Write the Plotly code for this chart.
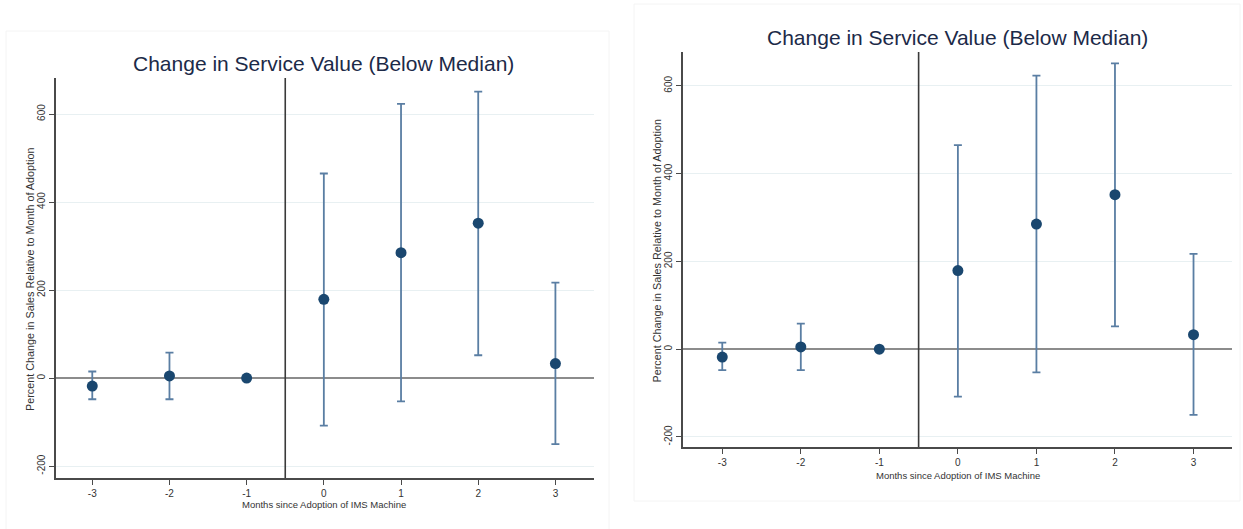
import plotly.graph_objects as go

# Event-study estimates: months relative to adoption, point estimate and 95% CI
months = [-3, -2, -1, 0, 1, 2, 3]
estimate = [-18, 5, 0, 179, 285, 352, 33]
ci_low = [-48, -48, None, -108, -53, 52, -150]
ci_high = [15, 58, None, 465, 623, 651, 217]

tick_vals_y = [-200, 0, 200, 400, 600]
tick_text_y = ["-200", "0", "200", "400", "600"]
tick_vals_x = months
tick_text_x = ["-3", "-2", "-1", "0", "1", "2", "3"]

title_text = "Change in Service Value (Below Median)"
xtitle_text = "Months since Adoption of IMS Machine"
ytitle_text = "Percent Change in Sales Relative to Month of Adoption"

W, H = 1243, 529
FONT = "Liberation Sans, Arial, sans-serif"
NAVY = "#1a476f"
BAR = "#5a7ea3"


def px_x(p):
    return p / W


def px_y(p):
    return 1 - p / H


err_plus = [None if h is None else h - e for h, e in zip(ci_high, estimate)]
err_minus = [None if l is None else e - l for l, e in zip(ci_low, estimate)]

# panel geometry in pixels: plot area left, right, top, bottom, and axis ranges
panels = [
    dict(l=56, r=594, t=78, b=478, xr=[-3.47, 3.50], yr=[-227, 682],
         frame=(6, 609, 31, 540), title_y=63, xt_y=504, yt_x=30),
    dict(l=683, r=1232, t=52, b=447, xr=[-3.50, 3.49], yr=[-223, 677],
         frame=(634, 1240, 4, 501), title_y=37, xt_y=475, yt_x=657),
]

fig = go.Figure()
shapes = []
annotations = []

for i, p in enumerate(panels, start=1):
    xa = "x" if i == 1 else f"x{i}"
    ya = "y" if i == 1 else f"y{i}"
    fig.add_trace(go.Scatter(
        x=months, y=estimate, mode="markers", xaxis=xa, yaxis=ya,
        marker=dict(color=NAVY, size=11),
        error_y=dict(type="data", symmetric=False, array=err_plus,
                     arrayminus=err_minus, color=BAR, thickness=1.8, width=4),
        showlegend=False, hoverinfo="x+y",
    ))
    axis_common = dict(showline=True, linecolor="#4a4a4a", linewidth=1.5,
                       ticks="outside", ticklen=5, tickcolor="#4a4a4a",
                       tickfont=dict(family=FONT, size=10, color="#333"))
    fig.layout[f"xaxis{'' if i == 1 else i}"] = dict(
        domain=[px_x(p["l"]), px_x(p["r"])], range=p["xr"], anchor=ya,
        tickvals=tick_vals_x, ticktext=tick_text_x, showgrid=False,
        zeroline=False, **axis_common)
    fig.layout[f"yaxis{'' if i == 1 else i}"] = dict(
        domain=[px_y(p["b"]), px_y(p["t"])], range=p["yr"], anchor=xa,
        tickvals=tick_vals_y, ticktext=tick_text_y, tickangle=-90,
        showgrid=True, gridcolor="#e8f0f2", gridwidth=1.2, zeroline=True,
        zerolinecolor="#8c8c8c", zerolinewidth=2, **axis_common)

    # adoption marker between month -1 and month 0
    shapes.append(dict(type="line", xref=xa, yref=f"{ya} domain",
                       x0=-0.5, x1=-0.5, y0=0, y1=1,
                       line=dict(color="#3a3a3a", width=1.6), layer="above"))
    fl, fr, ft, fb = p["frame"]
    shapes.append(dict(type="rect", xref="paper", yref="paper",
                       x0=px_x(fl), x1=px_x(fr), y0=px_y(fb), y1=px_y(ft),
                       line=dict(color="#f4f4f4", width=1), layer="below"))

    zero_px = p["l"] + (0 - p["xr"][0]) / (p["xr"][1] - p["xr"][0]) * (p["r"] - p["l"])
    annotations.append(dict(text=title_text, xref="paper", yref="paper",
                            x=px_x(zero_px), y=px_y(p["title_y"]),
                            xanchor="center", yanchor="middle", showarrow=False,
                            font=dict(family=FONT, size=21, color="#1c2a48")))
    annotations.append(dict(text=xtitle_text, xref="paper", yref="paper",
                            x=px_x(zero_px), y=px_y(p["xt_y"]),
                            xanchor="center", yanchor="middle", showarrow=False,
                            font=dict(family=FONT, size=9.5, color="#333")))
    annotations.append(dict(text=ytitle_text, xref="paper", yref="paper",
                            x=px_x(p["yt_x"]), y=px_y((p["t"] + p["b"]) / 2 + 1),
                            xanchor="center", yanchor="middle", showarrow=False,
                            textangle=-90,
                            font=dict(family=FONT, size=10.8, color="#333")))

fig.update_layout(width=W, height=H, margin=dict(l=0, r=0, t=0, b=0),
                  paper_bgcolor="white", plot_bgcolor="white",
                  shapes=shapes, annotations=annotations)

fig.write_html("out.html")
